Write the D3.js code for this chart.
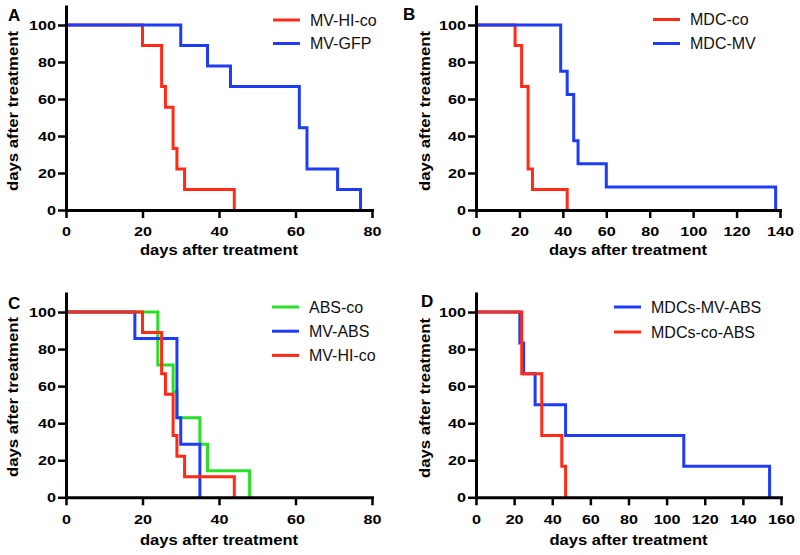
<!DOCTYPE html>
<html>
<head>
<meta charset="utf-8">
<script src="https://cdn.jsdelivr.net/npm/d3@7"></script>
<style>
  html, body { margin: 0; padding: 0; background: #fff; }
  svg { display: block; }
  text { font-family: "Liberation Sans", Arial, sans-serif; }
</style>
</head>
<body>
<svg id="chart" width="800" height="555"></svg>
<script>
// ---------------- DATA ----------------
const yTicks = [0, 20, 40, 60, 80, 100];
const xTicksA = [0, 20, 40, 60, 80];
const xTicksB = [0, 20, 40, 60, 80, 100, 120, 140];
const xTicksC = [0, 20, 40, 60, 80];
const xTicksD = [0, 20, 40, 60, 80, 100, 120, 140, 160];

const axisTitle = "days after treatment";

// Panel A
const aNames = ["MV-HI-co", "MV-GFP"];
const aRedDays = [0, 20, 25, 26, 28, 29, 31, 44];
const aRedSurv = [100, 88.9, 66.7, 55.6, 33.3, 22.2, 11.1, 0];
const aBlueDays = [0, 30, 37, 43, 61, 63, 71, 77];
const aBlueSurv = [100, 88.9, 77.8, 66.7, 44.4, 22.2, 11.1, 0];

// Panel B
const bNames = ["MDC-co", "MDC-MV"];
const bRedDays = [0, 18, 21, 24, 26, 42];
const bRedSurv = [100, 88.9, 66.7, 22.2, 11.1, 0];
const bBlueDays = [0, 39, 42, 45, 47, 60, 138];
const bBlueSurv = [100, 75, 62.5, 37.5, 25, 12.5, 0];

// Panel C
const cNames = ["ABS-co", "MV-ABS", "MV-HI-co"];
const cGreenDays = [0, 24, 28, 29, 35, 37, 48];
const cGreenSurv = [100, 71.4, 57.1, 42.9, 28.6, 14.3, 0];
const cBlueDays = [0, 18, 29, 30, 35];
const cBlueSurv = [100, 85.7, 42.9, 28.6, 0];
const cRedDays = [0, 20, 25, 26, 28, 29, 31, 44];
const cRedSurv = [100, 88.9, 66.7, 55.6, 33.3, 22.2, 11.1, 0];

// Panel D
const dNames = ["MDCs-MV-ABS", "MDCs-co-ABS"];
const dBlueDays = [0, 23, 25, 31, 47, 109, 154];
const dBlueSurv = [100, 83.3, 66.7, 50, 33.3, 16.7, 0];
const dRedDays = [0, 24, 34.5, 45, 47];
const dRedSurv = [100, 66.7, 33.3, 16.7, 0];

// ---------------- STYLE ----------------
const RED = "#ff2b17", BLUE = "#1f3cf5", GREEN = "#29e029";
const svg = d3.select("#chart");

function zip(days, surv) { return days.map((d, i) => ({ t: d, s: surv[i] })); }

function drawPanel(p) {
  const x = d3.scaleLinear().domain(p.xDomain).range(p.xRange);
  const y = d3.scaleLinear().domain([0, 110]).range(p.yRange);
  const g = svg.append("g");

  // survival curves
  const line = d3.line().x(d => x(d.t)).y(d => y(d.s)).curve(d3.curveStepAfter);
  p.series.forEach(s => {
    g.append("path")
      .datum(zip(s.days, s.surv))
      .attr("d", line)
      .attr("fill", "none")
      .attr("stroke", s.color)
      .attr("stroke-width", 3)
      .attr("stroke-linejoin", "miter");
  });

  // axes
  const gx = g.append("g")
    .attr("transform", `translate(0,${y(0)})`)
    .call(d3.axisBottom(x).tickValues(p.xTicks).tickSize(8).tickSizeOuter(0).tickPadding(9));
  const gy = g.append("g")
    .attr("transform", `translate(${x(0)},0)`)
    .call(d3.axisLeft(y).tickValues(yTicks).tickSize(8).tickSizeOuter(0).tickPadding(2));
  [gx, gy].forEach(a => {
    a.select(".domain").attr("stroke", "#000").attr("stroke-width", 3).attr("stroke-linecap", "square");
    a.selectAll(".tick line").attr("stroke", "#000").attr("stroke-width", 2.5);
    a.selectAll(".tick text")
      .attr("fill", "#000")
      .style("font-family", '"Liberation Sans", Arial, sans-serif')
      .style("font-size", "13px")
      .style("font-weight", "bold")
      .attr("textLength", function () { return this.textContent.length * 9; })
      .attr("lengthAdjust", "spacingAndGlyphs");
  });

  // axis titles
  const xMid = (p.xRange[0] + p.xRange[1]) / 2;
  g.append("text")
    .attr("x", xMid).attr("y", p.xTitleY)
    .attr("text-anchor", "middle")
    .style("font-size", "14px").style("font-weight", "bold")
    .attr("textLength", 158).attr("lengthAdjust", "spacingAndGlyphs")
    .text(axisTitle);
  g.append("text")
    .attr("transform", `translate(${p.yTitleX},${p.yTitleCy}) rotate(-90)`)
    .attr("text-anchor", "middle")
    .style("font-size", "14px").style("font-weight", "bold")
    .attr("textLength", p.yTitleLen).attr("lengthAdjust", "spacingAndGlyphs")
    .text(axisTitle);

  // panel letter
  g.append("text")
    .attr("x", p.letterX).attr("y", p.letterY)
    .style("font-size", "17px").style("font-weight", "bold")
    .text(p.letter);

  // legend
  p.series.forEach((s, i) => {
    const ly = p.legY + i * p.legDy;
    g.append("line")
      .attr("x1", p.legX).attr("x2", p.legX + 27)
      .attr("y1", ly).attr("y2", ly)
      .attr("stroke", s.color).attr("stroke-width", 3);
    g.append("text")
      .attr("x", p.legX + 37).attr("y", ly + 5.8)
      .style("font-size", "16px")
      .attr("fill", "#111")
      .text(s.name);
  });
}

drawPanel({
  letter: "A", letterX: 8, letterY: 21,
  xDomain: [0, 80], xTicks: xTicksA, xRange: [66, 372], yRange: [210, 6.5],
  xTitleY: 255, yTitleX: 18, yTitleCy: 111, yTitleLen: 160,
  legX: 273, legY: 20, legDy: 23.5,
  series: [
    { name: aNames[0], days: aRedDays, surv: aRedSurv, color: RED },
    { name: aNames[1], days: aBlueDays, surv: aBlueSurv, color: BLUE }
  ]
});

drawPanel({
  letter: "B", letterX: 403, letterY: 20,
  xDomain: [0, 140], xTicks: xTicksB, xRange: [476, 780], yRange: [210, 6.5],
  xTitleY: 255, yTitleX: 430, yTitleCy: 111, yTitleLen: 160,
  legX: 653, legY: 19.5, legDy: 24,
  series: [
    { name: bNames[0], days: bRedDays, surv: bRedSurv, color: RED },
    { name: bNames[1], days: bBlueDays, surv: bBlueSurv, color: BLUE }
  ]
});

drawPanel({
  letter: "C", letterX: 8, letterY: 309,
  xDomain: [0, 80], xTicks: xTicksC, xRange: [66, 372], yRange: [497.3, 293.5],
  xTitleY: 545, yTitleX: 18, yTitleCy: 397, yTitleLen: 160,
  legX: 272, legY: 307, legDy: 24.2,
  series: [
    { name: cNames[0], days: cGreenDays, surv: cGreenSurv, color: GREEN },
    { name: cNames[1], days: cBlueDays, surv: cBlueSurv, color: BLUE },
    { name: cNames[2], days: cRedDays, surv: cRedSurv, color: RED }
  ]
});

drawPanel({
  letter: "D", letterX: 421, letterY: 307,
  xDomain: [0, 160], xTicks: xTicksD, xRange: [476, 781], yRange: [497.3, 293.5],
  xTitleY: 545, yTitleX: 430, yTitleCy: 398, yTitleLen: 160,
  legX: 614, legY: 307, legDy: 25,
  series: [
    { name: dNames[0], days: dBlueDays, surv: dBlueSurv, color: BLUE },
    { name: dNames[1], days: dRedDays, surv: dRedSurv, color: RED }
  ]
});
</script>
</body>
</html>
